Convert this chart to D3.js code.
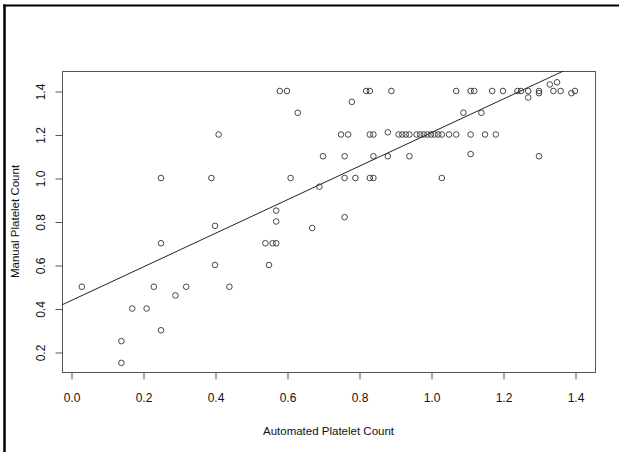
<!DOCTYPE html>
<html>
<head>
<meta charset="utf-8">
<script src="https://cdn.jsdelivr.net/npm/d3@7"></script>
<style>
  html, body { margin: 0; padding: 0; background: #fff; }
  svg { display: block; }
  text { font-family: "Liberation Sans", Arial, sans-serif; fill: #111; }
</style>
</head>
<body>
<script>
// ---- data ----
const automated = [
  0.03, 0.14, 0.14, 0.17, 0.21, 0.23, 0.25, 0.25, 0.25, 0.29, 0.32, 0.39, 0.40, 0.40, 0.41, 0.44,
  0.54, 0.55, 0.56, 0.57, 0.57, 0.57, 0.58, 0.60, 0.61, 0.63, 0.67, 0.69, 0.70,
  0.75, 0.77, 0.76, 0.76, 0.76, 0.78, 0.79, 0.82, 0.83, 0.83, 0.84, 0.84, 0.83, 0.84,
  0.88, 0.88, 0.89,
  0.91, 0.92, 0.93, 0.94, 0.96, 0.97, 0.98, 0.99, 1.00, 1.01, 1.02, 1.03, 1.05,
  0.94, 1.03, 1.07, 1.11, 1.15, 1.18, 1.11, 1.09, 1.14,
  1.07, 1.11, 1.12, 1.17, 1.20, 1.24, 1.25, 1.27, 1.30, 1.34, 1.36, 1.40,
  1.27, 1.30, 1.33, 1.35, 1.39, 1.30
];
const manual = [
  0.50, 0.25, 0.15, 0.40, 0.40, 0.50, 1.00, 0.70, 0.30, 0.46, 0.50, 1.00, 0.78, 0.60, 1.20, 0.50,
  0.70, 0.60, 0.70, 0.70, 0.85, 0.80, 1.40, 1.40, 1.00, 1.30, 0.77, 0.96, 1.10,
  1.20, 1.20, 1.10, 1.00, 0.82, 1.35, 1.00, 1.40, 1.40, 1.20, 1.20, 1.10, 1.00, 1.00,
  1.21, 1.10, 1.40,
  1.20, 1.20, 1.20, 1.20, 1.20, 1.20, 1.20, 1.20, 1.20, 1.20, 1.20, 1.20, 1.20,
  1.10, 1.00, 1.20, 1.20, 1.20, 1.20, 1.11, 1.30, 1.30,
  1.40, 1.40, 1.40, 1.40, 1.40, 1.40, 1.40, 1.40, 1.40, 1.40, 1.40, 1.40,
  1.37, 1.39, 1.43, 1.44, 1.39, 1.10
];
// fitted line: manual = intercept + slope * automated
const fitIntercept = 0.436;
const fitSlope = 0.772;

const xTicks = [0.0, 0.2, 0.4, 0.6, 0.8, 1.0, 1.2, 1.4];
const yTicks = [0.2, 0.4, 0.6, 0.8, 1.0, 1.2, 1.4];
const xTitle = "Automated Platelet Count";
const yTitle = "Manual Platelet Count";

// ---- layout ----
const W = 619, H = 452;
const box = { left: 62, right: 595, top: 71, bottom: 372 };

const x = d3.scaleLinear().domain([0, 1.4]).range([71, 575]);
const y = d3.scaleLinear().domain([0.2, 1.4]).range([352, 91]);
const xDom = [x.invert(box.left), x.invert(box.right)];

const svg = d3.select("body").append("svg").attr("width", W).attr("height", H);
svg.append("rect").attr("width", W).attr("height", H).attr("fill", "#fff");

// outer frame (top and left)
svg.append("line").attr("x1", 3).attr("x2", W).attr("y1", 5.5).attr("y2", 5.5)
  .attr("stroke", "#000").attr("stroke-width", 2);
svg.append("line").attr("x1", 4.5).attr("x2", 4.5).attr("y1", 4.5).attr("y2", H)
  .attr("stroke", "#000").attr("stroke-width", 2.5);

// clip for line
svg.append("clipPath").attr("id", "clip").append("rect")
  .attr("x", box.left).attr("y", box.top)
  .attr("width", box.right - box.left).attr("height", box.bottom - box.top);

// plot box
svg.append("rect")
  .attr("x", box.left + 0.5).attr("y", box.top + 0.5)
  .attr("width", box.right - box.left).attr("height", box.bottom - box.top)
  .attr("fill", "none").attr("stroke", "#555").attr("stroke-width", 1);

// x axis
const xAxis = d3.axisBottom(x).tickValues(xTicks).tickFormat(d3.format(".1f"))
  .tickSize(7).tickPadding(14);
const gx = svg.append("g").attr("transform", `translate(0.5,${box.bottom + 0.5})`).call(xAxis);
gx.select(".domain").remove();
gx.selectAll(".tick line").attr("stroke", "#555");
gx.selectAll(".tick text").attr("font-size", 12).attr("fill", "#111")
  .attr("font-family", "Liberation Sans, Arial, sans-serif");
gx.append("line").attr("x1", x(0)).attr("x2", x(1.4)).attr("stroke", "#555");

// y axis
const yAxis = d3.axisLeft(y).tickValues(yTicks).tickFormat(d3.format(".1f"))
  .tickSize(7).tickPadding(0);
const gy = svg.append("g").attr("transform", `translate(${box.left + 0.5},0.5)`).call(yAxis);
gy.select(".domain").remove();
gy.selectAll(".tick line").attr("stroke", "#555");
gy.selectAll(".tick text")
  .attr("font-size", 12).attr("fill", "#111")
  .attr("font-family", "Liberation Sans, Arial, sans-serif")
  .attr("x", null)
  .attr("text-anchor", "middle")
  .attr("transform", "translate(-22,0) rotate(-90)")
  .attr("dy", "0.35em");

// axis titles
svg.append("text").attr("x", (box.left + box.right) / 2).attr("y", 435)
  .attr("text-anchor", "middle").attr("font-size", 11.5).text(xTitle);
svg.append("text")
  .attr("transform", `translate(19,${(box.top + box.bottom) / 2}) rotate(-90)`)
  .attr("text-anchor", "middle").attr("font-size", 11.5).text(yTitle);

// regression line
svg.append("line")
  .attr("clip-path", "url(#clip)")
  .attr("x1", x(xDom[0])).attr("y1", y(fitIntercept + fitSlope * xDom[0]))
  .attr("x2", x(xDom[1])).attr("y2", y(fitIntercept + fitSlope * xDom[1]))
  .attr("stroke", "#222").attr("stroke-width", 1);

// points
const pts = automated.map((a, i) => ({ a, m: manual[i] }));
svg.append("g").selectAll("circle").data(pts).join("circle")
  .attr("cx", d => x(d.a)).attr("cy", d => y(d.m)).attr("r", 2.8)
  .attr("fill", "none").attr("stroke", "#333").attr("stroke-width", 0.9);
</script>
</body>
</html>
